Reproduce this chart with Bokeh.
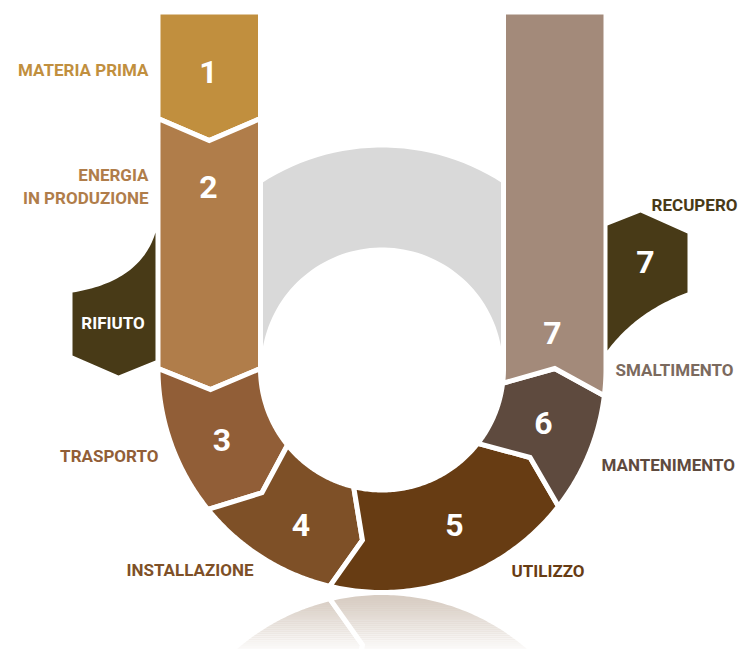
import numpy as np
from bokeh.plotting import figure
from bokeh.models import Range1d
from bokeh.core.properties import value
from bokeh.embed import file_html
from bokeh.resources import INLINE

# ---------------- data ----------------
steps = ["1", "2", "3", "4", "5", "6", "7"]
step_labels = ["MATERIA PRIMA", "ENERGIA\nIN PRODUZIONE", "TRASPORTO", "INSTALLAZIONE",
               "UTILIZZO", "MANTENIMENTO", "SMALTIMENTO"]
step_colors = ["#c18f3e", "#b07d4a", "#915e37", "#7e5027", "#673c13", "#5e4a3e", "#a38a7a"]
label_colors = ["#c18f3e", "#b07d4a", "#915e37", "#7e5027", "#673c13", "#5e4a3e", "#7b6a5e"]
side_labels = ["RIFIUTO", "RECUPERO"]
side_color = "#483a17"
side_label_color = "#483a17"
# boundaries: left column (y of boundary 1/2), ring angles (deg) for boundaries 2/3 .. 6/7
col_boundary_y = 118.0
ring_boundaries = [180.0, 219.0, 256.5, 322.0, 353.0]

# ---------------- geometry ----------------
CX, CY = 381.5, 368.0
R_OUT, R_IN = 224.0, 121.5
R_MID = (R_OUT + R_IN) / 2
TIP = 7.0
COL_TIP = 22.0
TOP = 11.5
YM = 592.0  # reflection axis


def pt(a, r):
    t = np.radians(a)
    return (CX + r * np.cos(t), CY - r * np.sin(t))


def arc(a0, a1, r, n=80):
    return [pt(a, r) for a in np.linspace(a0, a1, n)]


def xy(points):
    return [p[0] for p in points], [p[1] for p in points]


xl_out, xl_in = CX - R_OUT, CX - R_IN
xr_in, xr_out = CX + R_IN, CX + R_OUT
xl_mid = CX - R_MID

polys = []
# seg 1
polys.append([(xl_out, TOP), (xl_in, TOP), (xl_in, col_boundary_y),
              (xl_mid, col_boundary_y + COL_TIP), (xl_out, col_boundary_y)])
# seg 2
polys.append([(xl_out, col_boundary_y), (xl_mid, col_boundary_y + COL_TIP), (xl_in, col_boundary_y),
              (xl_in, CY), pt(180 + TIP, R_MID), (xl_out, CY)])
# ring segs 3..6
for a0, a1 in zip(ring_boundaries[:-1], ring_boundaries[1:]):
    pts = arc(a0, a1, R_OUT) + [pt(a1 + TIP, R_MID)] + arc(a1, a0, R_IN) + [pt(a0 + TIP, R_MID)]
    polys.append(pts)
# seg 7
a7 = ring_boundaries[-1]
polys.append([pt(a7, R_IN), pt(a7 + TIP, R_MID)] + arc(a7, 360, R_OUT) +
             [(xr_out, TOP), (xr_in, TOP)] + arc(360, a7, R_IN))

p = figure(width=741, height=649, x_range=Range1d(0, 741), y_range=Range1d(649, 0),
           output_backend="svg", toolbar_location=None, min_border=0,
           x_axis_location=None, y_axis_location=None, outline_line_color=None,
           background_fill_color="white", border_fill_color="white")
p.grid.visible = False

# grey upper half ring
g_out = arc(0, 180, 221)
g_in = arc(180, 0, 121)
gx, gy = xy(g_out + g_in)
p.patch(gx, gy, fill_color="#d9d9d9", line_color=None)

# reflection
rxs, rys = [], []
for pts in polys[2:6]:
    x, y = xy(pts)
    rxs.append(x)
    rys.append([2 * YM - v for v in y])
p.patches(rxs, rys, fill_color="#d8cdc3", line_color="white", line_width=5, line_join="miter")
nb = 30
edges = np.linspace(YM + 1, 651, nb + 1)
alphas = 0.92 * np.linspace(0.0, 1.0, nb) ** 1.4
p.quad(left=[150] * nb, right=[620] * nb, top=edges[:-1], bottom=edges[1:] + 0.5,
       fill_color="white", fill_alpha=alphas, line_color=None)

# main segments
xs, ys = [], []
for pts in polys:
    x, y = xy(pts)
    xs.append(x)
    ys.append(y)
p.patches(xs, ys, fill_color=step_colors, line_color="white", line_width=5, line_join="miter")


# side tabs
def bez(p0, c, p2, n=40):
    t = np.linspace(0, 1, n)[:, None]
    a, b, d = np.array(p0), np.array(c), np.array(p2)
    return [tuple(v) for v in (1 - t) ** 2 * a + 2 * (1 - t) * t * b + t ** 2 * d]


left_tab = bez((155, 232), (140, 281), (72, 292)) + [(72, 355), (118, 375), (155, 360)]
right_tab = [(607, 225), (640, 212), (687, 233)] + bez((687, 292), (636, 311), (607, 350))
tx, ty = [], []
for t in (left_tab, right_tab):
    x, y = xy(t)
    tx.append(x)
    ty.append(y)
p.patches(tx, ty, fill_color=side_color, line_color=None)

FONT = value("Roboto")
# numbers
num_x = [208, 208, 221.5, 300.5, 454, 543, 552, 645]
num_y = [71, 186, 439, 524, 524, 422.5, 332.5, 261]
num_t = steps + ["7"]
p.text(num_x, num_y, text=num_t, text_align="center", text_baseline="middle",
       text_font=FONT, text_font_style="bold", text_font_size="32px", text_color="white")

LBL = "17px"
# labels left (right aligned)
p.text([148, 148, 148, 158, 253], [69.5, 174.5, 197, 455.5, 569.5],
       text=["MATERIA PRIMA", "ENERGIA", "IN PRODUZIONE", "TRASPORTO", "INSTALLAZIONE"],
       text_align="right", text_baseline="middle", text_font=FONT, text_font_style="bold",
       text_font_size=LBL,
       text_color=[label_colors[0], label_colors[1], label_colors[1], label_colors[2], label_colors[3]])
# labels right
p.text([511, 601, 733, 737], [570.5, 464.5, 369, 204],
       text=["UTILIZZO", "MANTENIMENTO", "SMALTIMENTO", "RECUPERO"],
       text_align=["left", "left", "right", "right"], text_baseline="middle", text_font=FONT,
       text_font_style="bold", text_font_size=LBL,
       text_color=[label_colors[4], label_colors[5], label_colors[6], side_label_color])
p.text([112.5], [322.5], text=["RIFIUTO"], text_align="center", text_baseline="middle",
       text_font=FONT, text_font_style="bold", text_font_size=LBL, text_color="white")

open("out.html", "w").write(file_html(p, INLINE))
